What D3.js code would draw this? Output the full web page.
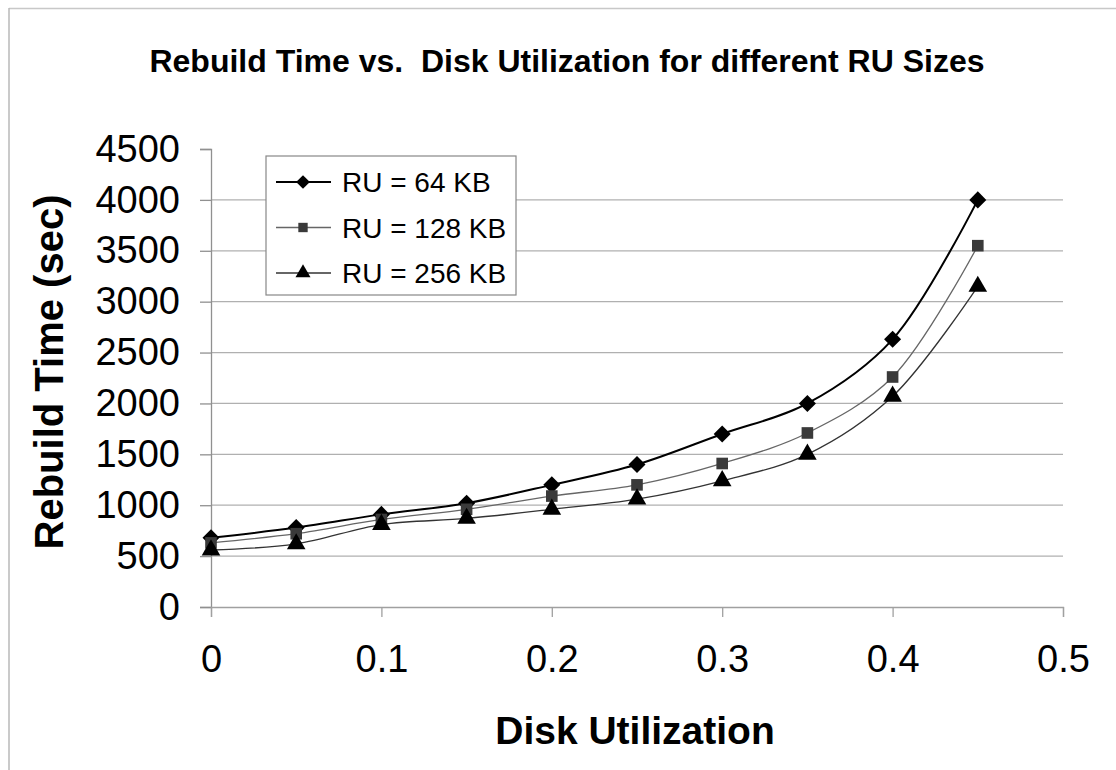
<!DOCTYPE html>
<html>
<head>
<meta charset="utf-8">
<script src="https://cdn.jsdelivr.net/npm/d3@7"></script>
<style>
  html, body { margin: 0; padding: 0; background: #fff; }
  svg { display: block; }
  text { font-family: "Liberation Sans", Arial, sans-serif; fill: #000; white-space: pre; }
</style>
</head>
<body>
<svg id="chart" width="1116" height="770"></svg>
<script>
const utilization = [0, 0.05, 0.1, 0.15, 0.2, 0.25, 0.3, 0.35, 0.4, 0.45];
const ru64  = [680, 780, 910, 1020, 1200, 1400, 1700, 2000, 2630, 4000];
const ru128 = [630, 720, 860, 960, 1090, 1200, 1410, 1710, 2260, 3550];
const ru256 = [560, 620, 810, 870, 960, 1060, 1240, 1500, 2070, 3150];
const seriesNames = ["RU = 64 KB", "RU = 128 KB", "RU = 256 KB"];
const xTicks = [0, 0.1, 0.2, 0.3, 0.4, 0.5];
const yTicks = [0, 500, 1000, 1500, 2000, 2500, 3000, 3500, 4000, 4500];
const chartTitle = "Rebuild Time vs.  Disk Utilization for different RU Sizes";
const xTitle = "Disk Utilization";
const yTitle = "Rebuild Time (sec)";

const svg = d3.select("#chart");
const plotLeft = 211, plotRight = 1063, plotTop = 149, plotBottom = 607;

const x = d3.scaleLinear().domain([0, 0.5]).range([plotLeft, plotRight]);
const y = d3.scaleLinear().domain([0, 4500]).range([plotBottom, plotTop]);

// outer frame (top & left only visible)
svg.append("line").attr("x1", 9).attr("x2", 1116).attr("y1", 8.5).attr("y2", 8.5)
  .attr("stroke", "#c8c8c8").attr("stroke-width", 1.5);
svg.append("line").attr("x1", 9).attr("x2", 9).attr("y1", 8).attr("y2", 770)
  .attr("stroke", "#b8b8b8").attr("stroke-width", 1.5);

// gridlines
svg.append("g").selectAll("line").data(yTicks.filter(d => d > 0 && d < 4500)).join("line")
  .attr("x1", plotLeft).attr("x2", plotRight)
  .attr("y1", d => y(d)).attr("y2", d => y(d))
  .attr("stroke", "#b0b0b0").attr("stroke-width", 1.3);

// y axis
const yAxis = svg.append("g").attr("transform", `translate(${plotLeft},0)`)
  .call(d3.axisLeft(y).tickValues(yTicks).tickSize(11).tickPadding(20).tickFormat(d3.format("d")));
yAxis.select(".domain").attr("stroke", "#909090").attr("stroke-width", 1.3);
yAxis.selectAll(".tick line").attr("stroke", "#909090").attr("stroke-width", 1.3);
yAxis.selectAll("text").attr("font-size", 38).attr("font-family", "Liberation Sans, Arial, sans-serif").attr("fill", "#000");

// x axis
const xAxis = svg.append("g").attr("transform", `translate(0,${plotBottom})`)
  .call(d3.axisBottom(x).tickValues(xTicks).tickSize(10).tickPadding(28).tickFormat(d => d === 0 ? "0" : d3.format(".1f")(d)));
xAxis.select(".domain").attr("stroke", "#a0a0a0").attr("stroke-width", 1.3);
xAxis.selectAll(".tick line").attr("stroke", "#a0a0a0").attr("stroke-width", 1.3);
xAxis.selectAll("text").attr("font-size", 38).attr("font-family", "Liberation Sans, Arial, sans-serif").attr("fill", "#000");

// titles
svg.append("text").attr("x", 567).attr("y", 72).attr("text-anchor", "middle")
  .attr("font-size", 32).attr("font-weight", "bold").text(chartTitle);
svg.append("text").attr("x", 635).attr("y", 744).attr("text-anchor", "middle")
  .attr("font-size", 39).attr("font-weight", "bold").text(xTitle);
svg.append("text").attr("transform", "translate(63,372) rotate(-90)").attr("text-anchor", "middle")
  .attr("font-size", 40).attr("font-weight", "bold").text(yTitle);

// series
const series = [
  { name: seriesNames[0], values: ru64,  stroke: "#000", width: 2, marker: d3.symbolSquare, rot: 45, size: 145, fill: "#000" },
  { name: seriesNames[1], values: ru128, stroke: "#666", width: 1.3, marker: d3.symbolSquare, rot: 0, size: 135, fill: "#3a3a3a" },
  { name: seriesNames[2], values: ru256, stroke: "#333", width: 1.3, marker: d3.symbolTriangle, rot: 0, size: 150, fill: "#000" }
];

const line = d3.line().x(d => x(d[0])).y(d => y(d[1])).curve(d3.curveCatmullRom.alpha(0.5));

series.forEach(s => {
  const pts = utilization.map((u, i) => [u, s.values[i]]);
  svg.append("path").datum(pts).attr("d", line)
    .attr("fill", "none").attr("stroke", s.stroke).attr("stroke-width", s.width);
  svg.append("g").selectAll("path").data(pts).join("path")
    .attr("transform", d => `translate(${x(d[0])},${y(d[1])}) rotate(${s.rot})`)
    .attr("d", d3.symbol().type(s.marker).size(s.size))
    .attr("fill", s.fill);
});

// legend
const lg = svg.append("g").attr("transform", "translate(266,156)");
lg.append("rect").attr("x", 0).attr("y", 0).attr("width", 250).attr("height", 139)
  .attr("fill", "#fff").attr("stroke", "#888").attr("stroke-width", 1.2);
series.forEach((s, i) => {
  const cy = 26 + i * 45.5;
  lg.append("line").attr("x1", 10).attr("x2", 65).attr("y1", cy).attr("y2", cy)
    .attr("stroke", s.stroke).attr("stroke-width", s.width);
  lg.append("path").attr("transform", `translate(37,${cy}) rotate(${s.rot})`)
    .attr("d", d3.symbol().type(s.marker).size(s.size * 0.65)).attr("fill", s.fill);
  lg.append("text").attr("x", 76).attr("y", cy + 10).attr("font-size", 28).text(s.name);
});
</script>
</body>
</html>
